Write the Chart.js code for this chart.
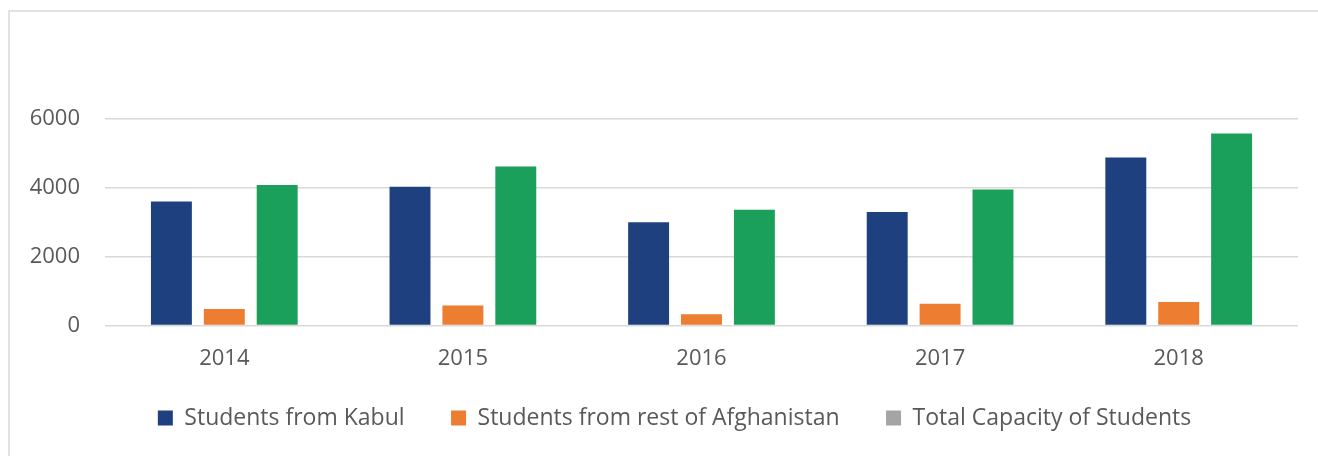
<!DOCTYPE html>
<html>
<head>
<meta charset="utf-8">
<script src="https://cdn.jsdelivr.net/npm/chart.js@4/dist/chart.umd.min.js"></script>
<style>
  html, body { margin: 0; padding: 0; background: #fff; }
  #wrap { position: relative; width: 1318px; height: 456px; }
</style>
</head>
<body>
<div id="wrap"><canvas id="chart"></canvas></div>
<script>
// chart data
const years = ["2014", "2015", "2016", "2017", "2018"];
const kabul = [3600, 4030, 3000, 3300, 4880];
const restOfAfghanistan = [480, 580, 330, 630, 680];
const totalCapacity = [4080, 4620, 3360, 3950, 5580];
const yTicks = [0, 2000, 4000, 6000];

const textColor = "#595959";
const gridColor = "#d9d9d9";
const fontFamily = "'Open Sans'";

// light frame on left and top, like the original
const framePlugin = {
  id: "frame",
  beforeDraw(chart) {
    const ctx = chart.ctx;
    ctx.save();
    ctx.strokeStyle = "#d9d9d9";
    ctx.lineWidth = 1.5;
    ctx.beginPath();
    ctx.moveTo(9, chart.height);
    ctx.lineTo(9, 11);
    ctx.lineTo(chart.width, 11);
    ctx.stroke();
    ctx.restore();
  },
};

// the legend in the original sits a little right of centre
const legendShift = {
  id: "legendShift",
  afterLayout(chart) {
    const lg = chart.legend;
    lg.left += 25.5;
    lg.right += 25.5;
    lg.top -= 11.5;
    lg.bottom -= 11.5;
  },
};

const ctx = document.getElementById("chart").getContext("2d");
window.myChart = new Chart(ctx, {
  type: "bar",
  data: {
    labels: years,
    datasets: [
      {
        label: "Students from Kabul",
        data: kabul,
        backgroundColor: "#1f407f",
      },
      {
        label: "Students from rest of Afghanistan",
        data: restOfAfghanistan,
        backgroundColor: "#ed7d31",
      },
      {
        label: "Total Capacity of Students",
        data: totalCapacity,
        backgroundColor: "#1aa05a",
      },
    ],
  },
  options: {
    responsive: true,
    maintainAspectRatio: false,
    animation: false,
    datasets: {
      bar: {
        categoryPercentage: 0.665,
        barPercentage: 0.774,
      },
    },
    layout: {
      padding: { top: 119, left: 0, right: 20, bottom: 5 },
    },
    scales: {
      x: {
        grid: { display: false, drawTicks: false },
        border: { display: false },
        ticks: {
          color: textColor,
          font: { family: fontFamily, size: 22 },
          padding: 20,
          maxRotation: 0,
        },
        afterFit: (scale) => {
          scale.height = 46;
        },
      },
      y: {
        min: 0,
        max: 6000,
        afterBuildTicks: (scale) => {
          scale.ticks = yTicks.map((v) => ({ value: v }));
        },
        grid: {
          color: gridColor,
          lineWidth: 1.5,
          drawTicks: false,
        },
        border: { display: false },
        ticks: {
          color: textColor,
          font: { family: fontFamily, size: 22 },
          padding: 25,
          callback: (value) => String(value),
        },
        afterFit: (scale) => {
          scale.width = 105;
        },
      },
    },
    plugins: {
      legend: {
        position: "bottom",
        labels: {
          color: textColor,
          font: { family: fontFamily, size: 23 },
          boxWidth: 15,
          boxHeight: 15,
          padding: 46.5,
          generateLabels: (chart) => {
            const items = Chart.defaults.plugins.legend.labels.generateLabels(chart);
            // the original shows a grey key for the capacity series
            items[2].fillStyle = "#a5a5a5";
            items[2].strokeStyle = "#a5a5a5";
            return items;
          },
        },
      },
      tooltip: { enabled: false },
    },
  },
  plugins: [framePlugin, legendShift],
});
</script>
</body>
</html>
